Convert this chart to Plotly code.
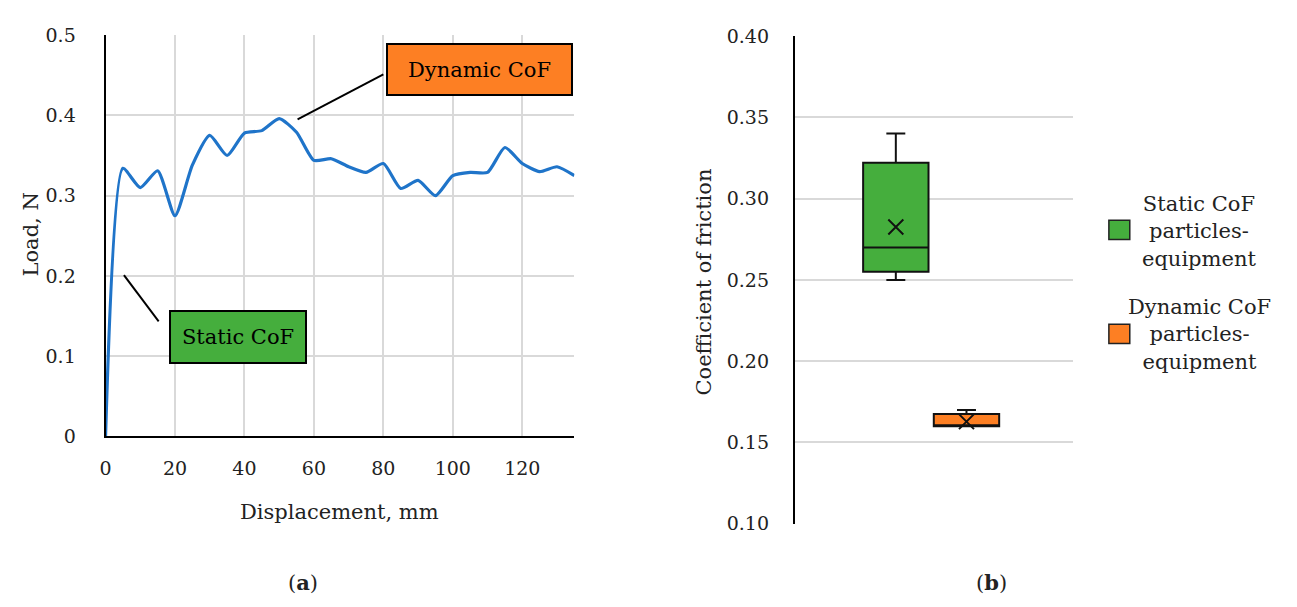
import plotly.graph_objects as go

# ---------------- data ----------------
displacement_mm = [0, 5, 10, 15, 20, 25, 30, 35, 40, 45, 50, 55, 60, 65, 70,
                   75, 80, 85, 90, 95, 100, 105, 110, 115, 120, 125, 130, 135]
load_N = [0.0, 0.334, 0.310, 0.331, 0.275, 0.338, 0.375, 0.350, 0.378, 0.381,
          0.396, 0.379, 0.344, 0.346, 0.336, 0.329, 0.340, 0.309, 0.319, 0.300,
          0.325, 0.329, 0.329, 0.360, 0.340, 0.330, 0.336, 0.325]

x_ticks = [0, 20, 40, 60, 80, 100, 120]
y_ticks_a = [0, 0.1, 0.2, 0.3, 0.4, 0.5]
y_tick_text_a = ["0", "0.1", "0.2", "0.3", "0.4", "0.5"]

series_names = ["Static CoF particles-equipment", "Dynamic CoF particles-equipment"]
legend_text = ["Static CoF<br>particles-<br>equipment", "Dynamic CoF<br>particles-<br>equipment"]
q1 = [0.255, 0.160]
median = [0.270, 0.160]
q3 = [0.322, 0.1675]
lower_whisker = [0.250, 0.160]
upper_whisker = [0.340, 0.170]
mean = [0.2825, 0.1628]
y_ticks_b = [0.10, 0.15, 0.20, 0.25, 0.30, 0.35, 0.40]
y_tick_text_b = ["0.10", "0.15", "0.20", "0.25", "0.30", "0.35", "0.40"]

colors = ["#45ae3d", "#fd7f23"]
LINE_BLUE = "#1f74c9"
GRID = "#d9d9d9"
FONT = "DejaVu Serif"
TXT = 21
TICK = 19
W, H = 1297, 607

def px(x):
    return x / W

def py(y):
    return 1 - y / H

fig = go.Figure()

# ---------------- (a) line chart ----------------
fig.add_trace(go.Scatter(
    x=displacement_mm, y=load_N, mode="lines",
    line=dict(color=LINE_BLUE, width=3.2, shape="spline", smoothing=0.6),
    xaxis="x", yaxis="y", showlegend=False, hoverinfo="skip"))

# ---------------- (b) box plot ----------------
box_x = [0.363, 0.617]
box_w = 0.235
for i in range(2):
    fig.add_trace(go.Box(
        x=[box_x[i]], q1=[q1[i]], median=[median[i]], q3=[q3[i]],
        lowerfence=[lower_whisker[i]], upperfence=[upper_whisker[i]],
        width=box_w, whiskerwidth=0.29, boxpoints=False,
        fillcolor=colors[i], line=dict(color="#111111", width=2),
        name=series_names[i], xaxis="x2", yaxis="y2", showlegend=False,
        hoverinfo="skip"))
fig.add_trace(go.Scatter(
    x=box_x, y=mean, mode="markers",
    marker=dict(symbol="x-thin", size=15, line=dict(color="#111111", width=2)),
    xaxis="x2", yaxis="y2", showlegend=False, hoverinfo="skip"))

tickfont = dict(family=FONT, size=TICK, color="#222222")

fig.update_layout(
    width=W, height=H,
    margin=dict(l=0, r=0, t=0, b=0),
    paper_bgcolor="white", plot_bgcolor="white",
    font=dict(family=FONT, size=TXT, color="#222222"),
    boxmode="overlay",
    xaxis=dict(domain=[px(100), px(571)], range=[0, 135],
               tickvals=x_ticks, showgrid=True, gridcolor=GRID, gridwidth=1.5,
               showline=True, linecolor="black", linewidth=2, zeroline=False,
               ticks="", tickfont=tickfont, ticklabelstandoff=14,
               anchor="y"),
    yaxis=dict(domain=[py(441.5), py(25)], range=[0, 0.5],
               tickvals=y_ticks_a, ticktext=y_tick_text_a,
               showgrid=True, gridcolor=GRID, gridwidth=1.5,
               showline=True, linecolor="black", linewidth=2, zeroline=False,
               ticks="", tickfont=tickfont, ticklabelstandoff=24,
               anchor="x"),
    xaxis2=dict(domain=[px(792.5), px(1072)], range=[0, 1],
                showticklabels=False, showgrid=False, zeroline=False,
                showline=False, ticks="", anchor="y2"),
    yaxis2=dict(domain=[py(532), py(26)], range=[0.10, 0.40],
                tickvals=y_ticks_b, ticktext=y_tick_text_b,
                showgrid=True, gridcolor=GRID, gridwidth=1.5,
                showline=True, linecolor="black", linewidth=2, zeroline=False,
                ticks="", tickfont=tickfont, ticklabelstandoff=20,
                anchor="x2"),
)

annotations = []
shapes = []

def label(text, x, y, angle=0, size=TXT):
    annotations.append(dict(text=text, x=px(x), y=py(y), xref="paper", yref="paper",
                            xanchor="center", yanchor="middle", showarrow=False,
                            textangle=angle, font=dict(size=size)))

# axis titles
label("Displacement, mm", 335, 520)
label("Load, N", 25, 232, angle=-90)
label("Coefficient of friction", 701, 281, angle=-90)
# captions
label("(<b>a</b>)", 298, 593)
label("(<b>b</b>)", 990, 593)

# callouts on (a)
annotations.append(dict(text="Static CoF", x=38.2, y=0.1235, xref="x", yref="y",
                        xanchor="center", yanchor="middle",
                        showarrow=False, bgcolor=colors[0], bordercolor="black",
                        borderwidth=2, borderpad=0, width=134, height=50,
                        font=dict(size=TXT, color="black")))
annotations.append(dict(text="Dynamic CoF", x=107.8, y=0.4575, xref="x", yref="y",
                        xanchor="center", yanchor="middle",
                        showarrow=False, bgcolor=colors[1], bordercolor="black",
                        borderwidth=2, borderpad=0, width=183, height=49,
                        font=dict(size=TXT, color="black")))
shapes.append(dict(type="line", xref="x", yref="y", x0=15.3, y0=0.1435, x1=5.3, y1=0.201,
                   line=dict(color="black", width=2)))
shapes.append(dict(type="line", xref="x", yref="y", x0=80.0, y0=0.451, x1=55.3, y1=0.395,
                   line=dict(color="black", width=2)))

# legend for (b)
legend_sq_y = [227, 335]
legend_txt_y = [229, 336]
for i in range(2):
    shapes.append(dict(type="rect", xref="paper", yref="paper",
                       x0=px(1108), x1=px(1129), y0=py(legend_sq_y[i] + 10), y1=py(legend_sq_y[i] - 10),
                       fillcolor=colors[i], line=dict(color="#222222", width=1.5)))
    annotations.append(dict(text=legend_text[i], x=px(1199), y=py(legend_txt_y[i]),
                            xref="paper", yref="paper", xanchor="center", yanchor="middle",
                            showarrow=False, align="center", font=dict(size=TXT)))

fig.update_layout(annotations=annotations, shapes=shapes)

fig.write_html("out.html",
               config={"displayModeBar": False},
               post_script="document.body.style.margin='0px';document.body.style.overflow='hidden';")
